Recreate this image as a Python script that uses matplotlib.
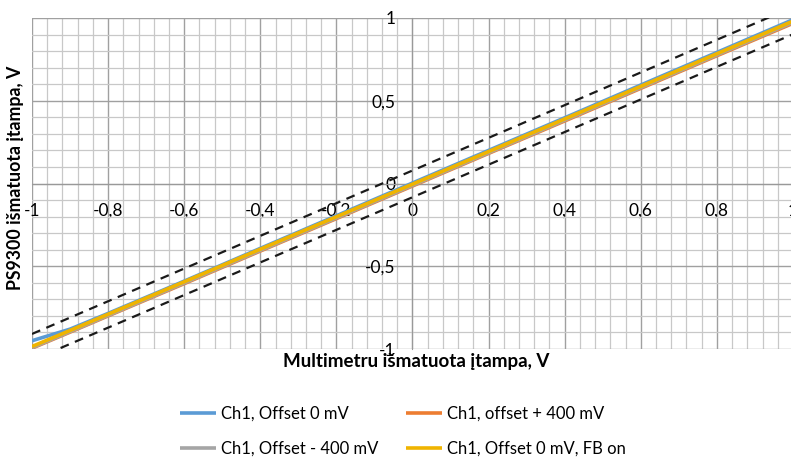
import matplotlib
matplotlib.use("Agg")
import matplotlib.pyplot as plt
import numpy as np

plt.rcParams['font.family'] = ['Lato', 'DejaVu Sans']

# Data
x_meas = [-1.0, -0.9, -0.8, -0.6, -0.4, -0.2, 0.0, 0.2, 0.4, 0.6, 0.8, 1.0]
ch1_off0 = [-0.950, -0.880, -0.785, -0.590, -0.392, -0.195, 0.003, 0.200, 0.397, 0.595, 0.792, 0.990]
ch1_offp400 = [-0.995, -0.898, -0.800, -0.605, -0.408, -0.212, -0.015, 0.182, 0.378, 0.575, 0.772, 0.968]
ch1_offm400 = [-0.992, -0.895, -0.797, -0.601, -0.404, -0.208, -0.011, 0.186, 0.383, 0.580, 0.777, 0.974]
ch1_fb = [-0.985, -0.888, -0.790, -0.594, -0.397, -0.201, -0.004, 0.193, 0.390, 0.587, 0.784, 0.981]

lim_x = [-1.0, 1.0]
lim_upper = [-0.909, 1.066]
lim_lower = [-1.068, 0.902]

xticks = [-1, -0.8, -0.6, -0.4, -0.2, 0, 0.2, 0.4, 0.6, 0.8, 1]
xtick_labels = ['-1', '-0,8', '-0,6', '-0,4', '-0,2', '0', '0,2', '0,4', '0,6', '0,8', '1']
yticks = [-1, -0.5, 0, 0.5, 1]
ytick_labels = ['-1', '-0,5', '0', '0,5', '1']

labels = ['Ch1, Offset 0 mV', 'Ch1, offset + 400 mV', 'Ch1, Offset - 400 mV', 'Ch1, Offset 0 mV, FB on']
colors = ['#5B9BD5', '#ED7D31', '#A5A5A5', '#F0B400']

W, H = 791, 459
fig = plt.figure(figsize=(W / 100, H / 100), dpi=100)
L, R, T, B = 32, 793, 18, 349
ax = fig.add_axes([L / W, 1 - B / H, (R - L) / W, (B - T) / H])
ax.set_xlim(-1, 1)
ax.set_ylim(-1, 1)

# grid
ax.set_xticks(np.arange(-1, 1.0001, 0.04), minor=True)
ax.set_yticks(np.arange(-1, 1.0001, 0.1), minor=True)
ax.set_xticks(xticks)
ax.set_yticks(yticks)
ax.set_xticklabels(xtick_labels)
ax.set_yticklabels(ytick_labels)
ax.grid(which='minor', color='#C8C8C8', linewidth=0.9)
ax.grid(which='major', color='#A0A0A0', linewidth=1.0)
ax.set_axisbelow(True)

for s in ['top', 'right']:
    ax.spines[s].set_visible(False)
ax.spines['left'].set_position(('data', 0))
ax.spines['bottom'].set_position(('data', 0))
ax.spines['left'].set_color('#999999')
ax.spines['bottom'].set_color('#999999')
ax.tick_params(which='both', length=0)
ax.tick_params(axis='x', pad=14, labelsize=12.5, colors='black')
ax.tick_params(axis='y', pad=12, labelsize=12.5, colors='black')

# limit lines
ax.plot(lim_x, lim_upper, color='#1a1a1a', linestyle=(0, (4, 3)), linewidth=1.6, zorder=3)
ax.plot(lim_x, lim_lower, color='#1a1a1a', linestyle=(0, (4, 3)), linewidth=1.6, zorder=3)

series = [ch1_off0, ch1_offp400, ch1_offm400, ch1_fb]
handles = []
for ys, c, lab in zip(series, colors, labels):
    h, = ax.plot(x_meas, ys, color=c, linewidth=2.6, label=lab, zorder=4, solid_capstyle='butt')
    handles.append(h)

fig.text(416 / W, 1 - 361 / H, 'Multimetru išmatuota įtampa, V', ha='center', va='center',
         fontsize=13.5, fontweight='bold')
fig.text(16 / W, 1 - 178 / H, 'PS9300 išmatuota įtampa, V', ha='center', va='center',
         rotation=90, fontsize=12.8, fontweight='bold')

order = [0, 2, 1, 3]
fig.legend([handles[i] for i in order], [labels[i] for i in order], ncol=2,
           loc='center', bbox_to_anchor=(403 / W, 1 - 431 / H), frameon=False,
           fontsize=12, handlelength=2.15, handletextpad=0.3, columnspacing=1.7,
           labelspacing=1.15, borderaxespad=0)

fig.savefig('out.png', dpi=100)
